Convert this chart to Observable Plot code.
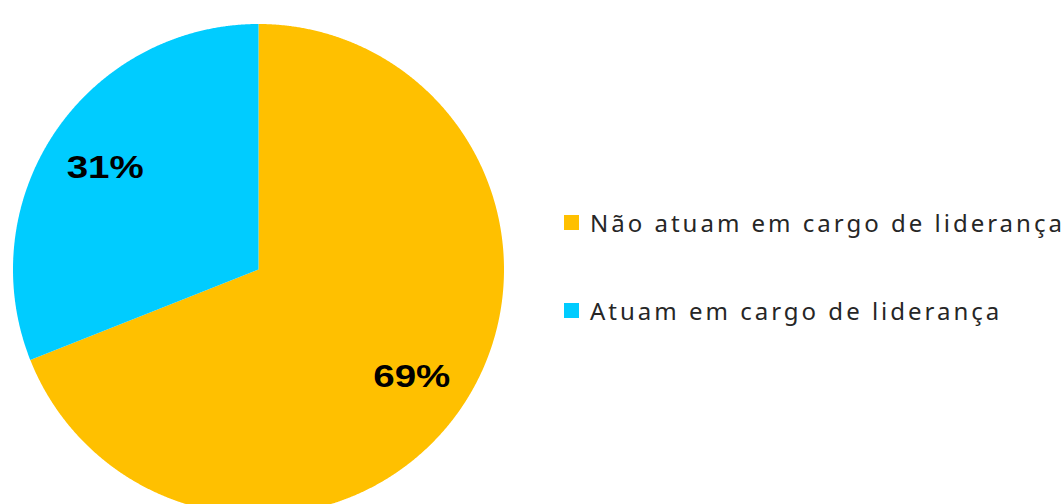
<!DOCTYPE html>
<html>
<head>
<meta charset="utf-8">
<script src="https://cdn.jsdelivr.net/npm/d3@7"></script>
<script src="https://cdn.jsdelivr.net/npm/@observablehq/plot@0.6"></script>
<style>
  html, body { margin: 0; padding: 0; background: #fff; overflow: hidden; width: 1064px; height: 504px; }
  #wrap { position: relative; width: 1064px; height: 504px; }
  #legend { position: absolute; left: 564px; top: 206px; font-family: "Noto Sans", sans-serif; font-size: 24px; color: #262626; }
  .item { display: flex; align-items: center; height: 32px; margin-bottom: 56px; white-space: nowrap; letter-spacing: 3px; }
  .sw { width: 15px; height: 15px; margin-right: 11px; flex: none; }
</style>
</head>
<body>
<div id="wrap"></div>
<script>
// Data
const categories = ["Não atuam em cargo de liderança", "Atuam em cargo de liderança"];
const values = [69, 31];
const labels = ["69%", "31%"];
const colors = ["#FFC000", "#00CCFF"];

// Layout (pixels)
const W = 1064, H = 504;
const cx = 258, cy = 269, R = 245.5;
const labelRadius = 0.755;

const table = categories.map((c, i) => ({cat: c, value: values[i], label: labels[i]}));
const arcs = d3.pie().sort(null).value(d => d.value)(table);

// Slice outlines in unit-circle data coordinates (angle clockwise from 12 o'clock)
const pts = [];
for (const a of arcs) {
  pts.push({cat: a.data.cat, x: 0, y: 0});
  const n = Math.max(2, Math.ceil((a.endAngle - a.startAngle) / (Math.PI / 720)));
  for (let k = 0; k <= n; k++) {
    const t = a.startAngle + (a.endAngle - a.startAngle) * k / n;
    pts.push({cat: a.data.cat, x: Math.sin(t), y: Math.cos(t)});
  }
  pts.push({cat: a.data.cat, x: 0, y: 0});
}
const labelPts = arcs.map(a => {
  const m = (a.startAngle + a.endAngle) / 2;
  return {label: a.data.label, x: labelRadius * Math.sin(m), y: labelRadius * Math.cos(m)};
});

const chart = Plot.plot({
  width: W, height: H,
  marginTop: 0, marginRight: 0, marginBottom: 0, marginLeft: 0,
  x: {domain: [-1, 1], range: [cx - R, cx + R], axis: null},
  y: {domain: [-1, 1], range: [cy + R, cy - R], axis: null},
  color: {domain: categories, range: colors},
  style: {background: "white", overflow: "hidden"},
  marks: [
    Plot.line(pts, {x: "x", y: "y", z: "cat", fill: "cat", stroke: null, curve: "linear"}),
    Plot.text(labelPts, {x: "x", y: "y", text: "label", fill: "black", fontSize: 31, fontWeight: "bold", dy: 3,
      fontFamily: "Liberation Sans, Arial, sans-serif"})
  ]
});
chart.querySelectorAll("text").forEach(t => {
  // widen label glyphs like the reference
  t.setAttribute("textLength", "77");
  t.setAttribute("lengthAdjust", "spacingAndGlyphs");
});
const wrap = document.getElementById("wrap");
wrap.appendChild(chart);

const legend = document.createElement("div");
legend.id = "legend";
categories.forEach((c, i) => {
  const row = document.createElement("div");
  row.className = "item";
  const sw = document.createElement("span");
  sw.className = "sw";
  sw.style.background = colors[i];
  const tx = document.createElement("span");
  tx.textContent = c;
  row.appendChild(sw); row.appendChild(tx);
  legend.appendChild(row);
});
wrap.appendChild(legend);
</script>
</body>
</html>
